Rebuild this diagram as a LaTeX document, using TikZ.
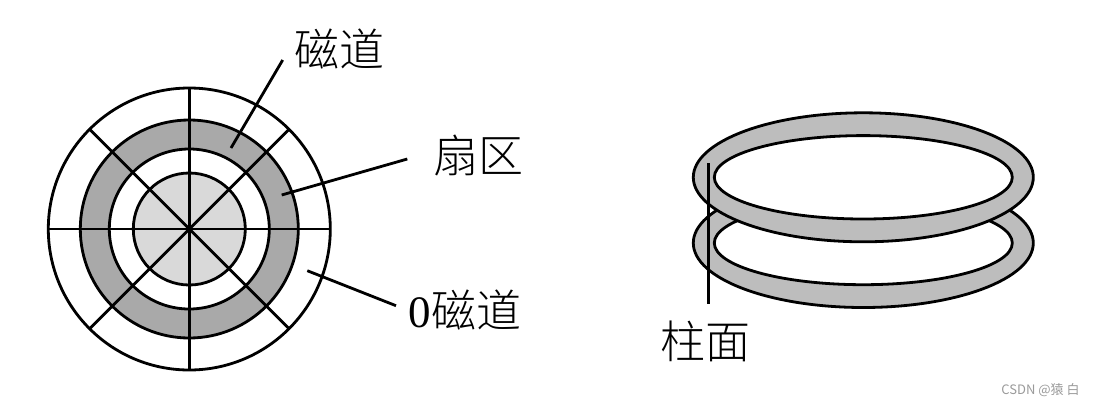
\documentclass[tikz,border=0pt]{standalone}
\usepackage{fontspec}
\usepackage{xcolor}
\newfontfamily\cjk{Noto Sans CJK SC Light}
\newfontfamily\wmark{Noto Sans CJK SC}
\newfontfamily\digit{Liberation Serif}
\definecolor{ringgray}{HTML}{A9A9A9}
\definecolor{coregray}{HTML}{D9D9D9}
\definecolor{platter}{HTML}{BDBDBD}
\definecolor{wmgray}{HTML}{9A9A9A}
\tikzset{
  outline/.style={draw=black, line width=2.8pt},
  leader/.style={draw=black, line width=2.8pt},
  tag/.style={inner sep=0pt, font=\cjk\fontsize{45}{45}\selectfont},
}
\begin{document}
\begin{tikzpicture}[x=1pt, y=-1pt]
        \useasboundingbox (0,0) rectangle (1093,405);
        % disc
        \coordinate (disc) at (189.3,229);
        \draw[outline] (disc) circle (141pt);
        \draw[outline, fill=ringgray] (disc) circle (109pt);
        \draw[outline, fill=white] (disc) circle (80pt);
        \draw[outline, fill=coregray] (disc) circle (56pt);
        \foreach \a in {0,45,90,135}
          \draw[outline] ([shift={(\a:141pt)}]disc) -- ([shift={(\a+180:141pt)}]disc);
        % platters
        \coordinate (low) at (863.3,243);
        \coordinate (up) at (863.3,177.3);
        \draw[outline, fill=platter] (low) ellipse [x radius=170pt, y radius=64.5pt];
        \draw[outline, fill=white] (low) ellipse [x radius=149pt, y radius=41.7pt];
        \draw[outline, fill=platter] (up) ellipse [x radius=170pt, y radius=64.5pt];
        \draw[outline, fill=white] (up) ellipse [x radius=149pt, y radius=41.7pt];
        % labels
        \node[tag] (track) at (339,49.3) {磁道};
        \node[tag] (sector) at (478,155.7) {扇区};
        \node[tag] (zero) at (465,310) {{\digit 0}磁道};
        \node[tag] (cyl) at (705,341.7) {柱面};
        \node[inner sep=0pt, text=wmgray, font=\wmark\fontsize{13}{13}\selectfont] (mark) at (1040.5,390) {CSDN @猿 白};
        % leaders
        \coordinate (trackend) at (231,148);
        \coordinate (trackfree) at (282.7,60);
        \coordinate (sectorend) at (281.7,195);
        \coordinate (sectorfree) at (407.3,159);
        \coordinate (zeroend) at (307.3,270.7);
        \coordinate (zerofree) at (396,305.7);
        \coordinate (cyltop) at (708.7,163);
        \coordinate (cylfree) at (708.7,304);
        \draw[leader] (trackfree) -- (trackend);
        \draw[leader] (sectorfree) -- (sectorend);
        \draw[leader] (zerofree) -- (zeroend);
        \draw[leader] (cyltop) -- (cylfree);
\end{tikzpicture}
\end{document}
